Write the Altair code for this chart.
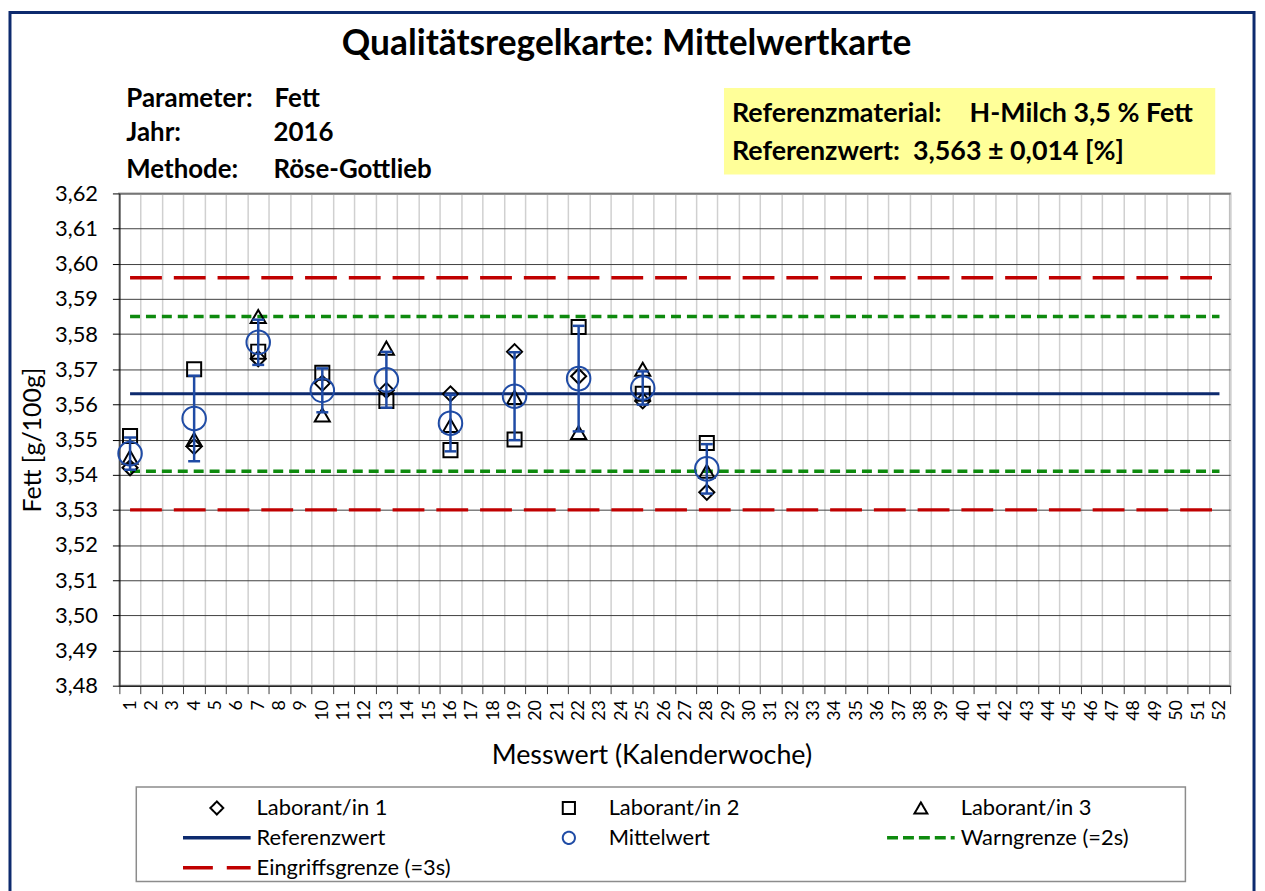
import altair as alt
import pandas as pd
import numpy as np

# ---------------- data ----------------
weeks = [str(w) for w in range(1, 53)]
sample_weeks = ["1", "4", "7", "10", "13", "16", "19", "22", "25", "28"]
lab1 = [3.542, 3.548, 3.573, 3.566, 3.564, 3.563, 3.575, 3.568, 3.561, 3.535]
lab2 = [3.551, 3.570, 3.575, 3.569, 3.561, 3.547, 3.550, 3.582, 3.563, 3.549]
lab3 = [3.545, 3.550, 3.585, 3.557, 3.576, 3.554, 3.562, 3.552, 3.570, 3.541]
ref_value = 3.563
warn_limits = [3.541, 3.585]
action_limits = [3.530, 3.596]
y_ticks = [3.48, 3.49, 3.50, 3.51, 3.52, 3.53, 3.54, 3.55, 3.56, 3.57,
           3.58, 3.59, 3.60, 3.61, 3.62]
series = ["Laborant/in 1", "Laborant/in 2", "Laborant/in 3", "Referenzwert",
          "Mittelwert", "Warngrenze (=2s)", "Eingriffsgrenze (=3s)"]

# ---------------- styles ----------------
FONT = "Lato"
NAVY = "#0D2A6E"
BLUE = "#1F4BA5"
GREEN = "#0E8A0E"
RED = "#C00000"
W, H = 1117, 495

labs = np.array([lab1, lab2, lab3])
mean = labs.mean(axis=0)
sd = labs.std(axis=0, ddof=1)
stat_df = pd.DataFrame({"week": sample_weeks, "mean": mean,
                        "lo": mean - sd, "hi": mean + sd})

x_enc = alt.X("week:O",
              scale=alt.Scale(domain=weeks, type="band", paddingInner=0, paddingOuter=0),
              axis=alt.Axis(title="Messwert (Kalenderwoche)", titleFont=FONT, titleFontSize=27,
                            titleFontWeight="normal", titleColor="black",
                            titleX=535, titleY=70, titleBaseline="middle", titleAlign="center",
                            labelAngle=270, labelFont=FONT, labelFontSize=18, labelColor="black",
                            labelPadding=6, labelOverlap=False, tickBand="extent", tickSize=8,
                            tickColor="#404040", domainColor="black", domainWidth=1,
                            grid=True, gridColor="#D0D0D0", gridWidth=1.5))
y_scale = alt.Scale(domain=[3.48, 3.62], nice=False, zero=False)
y_axis = alt.Axis(title="Fett [g/100g]", titleFont=FONT, titleFontSize=25, titleFontWeight="normal",
                  titleColor="black", titleAngle=270, titleX=-87, titleY=H / 2,
                  titleBaseline="middle", titleAlign="center",
                  values=y_ticks, labelExpr="replace(format(datum.value, '.2f'), '.', ',')",
                  labelFont=FONT, labelFontSize=22, labelColor="black", labelPadding=15,
                  labelOverlap=False, labelFlush=False, tickSize=7, tickColor="black",
                  domainColor="black", domainWidth=1, grid=True, gridColor="#404040", gridWidth=1)


def Y(field):
    return alt.Y(field, scale=y_scale, axis=y_axis, title="Fett [g/100g]")


layers = []

# decorations
one = pd.DataFrame({"k": [0]})
layers.append(alt.Chart(one).mark_rect(fill="transparent", stroke=NAVY, strokeWidth=3).encode(
    x=alt.value(-110), x2=alt.value(1141), y=alt.value(-182), y2=alt.value(720)))
layers.append(alt.Chart(one).mark_rect(fill="#FFFF99").encode(
    x=alt.value(608), x2=alt.value(1102), y=alt.value(-106), y2=alt.value(-19)))
layers.append(alt.Chart(one).mark_rect(fill="transparent", stroke="#8C8C8C", strokeWidth=1.5).encode(
    x=alt.value(17), x2=alt.value(1072), y=alt.value(597), y2=alt.value(692)))


def txt(s, x, y, size, weight="bold", align="left"):
    return alt.Chart(one).mark_text(text=s, font=FONT, fontSize=size, fontWeight=weight,
                                    align=align, baseline="middle", color="black").encode(
        x=alt.value(x), y=alt.value(y))


HS = 26
YS = 27
layers += [
    txt("Qualitätsregelkarte: Mittelwertkarte", 510, -150, 35.5, align="center"),
    txt("Parameter:", 7, -95, HS), txt("Fett", 156, -95, HS),
    txt("Jahr:", 7, -61, HS), txt("2016", 155, -61, HS),
    txt("Methode:", 7, -24, HS), txt("Röse-Gottlieb", 155, -24, HS),
    txt("Referenzmaterial:", 616, -80, YS), txt("H-Milch 3,5 % Fett", 855, -80, YS),
    txt("Referenzwert:", 616, -42, YS), txt("3,563 ± 0,014 [%]", 798, -42, YS),
]

# limit / reference lines
def hline(val, color, width, dash):
    df = pd.DataFrame({"week": [weeks[0], weeks[-1]], "v": [val, val]})
    return alt.Chart(df).mark_line(color=color, strokeWidth=width, strokeDash=dash,
                                   strokeCap="butt").encode(x=x_enc, y=Y("v:Q"))


layers.append(hline(ref_value, NAVY, 3, [1, 0]))
for v in warn_limits:
    layers.append(hline(v, GREEN, 3.5, [10, 6]))
for v in action_limits:
    layers.append(hline(v, RED, 3.5, [32, 12]))

# lab points
for vals, shp, sz in [(lab1, "diamond", 230), (lab2, "square", 200), (lab3, "triangle-up", 230)]:
    df = pd.DataFrame({"week": sample_weeks, "v": vals})
    layers.append(alt.Chart(df).mark_point(shape=shp, size=sz, filled=False, color="black",
                                           strokeWidth=2, opacity=1).encode(
        x=x_enc, y=Y("v:Q")))

# error bars + caps + means
layers.append(alt.Chart(stat_df).mark_rule(color=BLUE, strokeWidth=2.5).encode(
    x=x_enc, y=Y("lo:Q"), y2="hi:Q"))
for col in ["lo", "hi"]:
    layers.append(alt.Chart(stat_df).mark_tick(orient="horizontal", size=12, thickness=2.5,
                                               color=BLUE, opacity=1).encode(
        x=x_enc, y=Y(f"{col}:Q")))
layers.append(alt.Chart(stat_df).mark_point(shape="circle", size=560, filled=False, color=BLUE,
                                            strokeWidth=2, opacity=1).encode(
    x=x_enc, y=Y("mean:Q")))

# legend-only layer (Vega lays legend entries out column-wise, so the domain is
# ordered to read row-wise as in the reference)
style = {
    "Laborant/in 1": ("black", "diamond", [1, 0], 170, 2),
    "Laborant/in 2": ("black", "square", [1, 0], 150, 2),
    "Laborant/in 3": ("black", "triangle-up", [1, 0], 170, 2),
    "Referenzwert": (NAVY, "stroke", [1, 0], 4624, 3.5),
    "Mittelwert": (BLUE, "circle", [1, 0], 150, 2),
    "Warngrenze (=2s)": (GREEN, "stroke", [11, 5], 4624, 3.5),
    "Eingriffsgrenze (=3s)": (RED, "stroke", [30, 14], 4624, 3.5),
}
order = [series[0], series[3], series[5], series[1], series[4], series[6], series[2]]
leg = alt.Legend(title=None, orient="none", legendX=62, legendY=603, columns=3,
                 gridAlign="all", columnPadding=82, rowPadding=0, clipHeight=30,
                 labelFont=FONT, labelFontSize=22, labelColor="black", labelOffset=4,
                 labelLimit=400, padding=0, symbolFillColor="transparent")
leg_df = pd.DataFrame({"series": series})
layers.append(alt.Chart(leg_df).transform_filter("false").mark_point(filled=False, opacity=1).encode(
    stroke=alt.Stroke("series:N", legend=leg, scale=alt.Scale(
        domain=order, range=[style[s][0] for s in order])),
    shape=alt.Shape("series:N", legend=leg, scale=alt.Scale(
        domain=order, range=[style[s][1] for s in order])),
    strokeDash=alt.StrokeDash("series:N", legend=leg, scale=alt.Scale(
        domain=order, range=[style[s][2] for s in order])),
    size=alt.Size("series:N", legend=leg, scale=alt.Scale(
        type="ordinal", domain=order, range=[style[s][3] for s in order])),
    strokeWidth=alt.StrokeWidth("series:N", legend=leg, scale=alt.Scale(
        type="ordinal", domain=order, range=[style[s][4] for s in order])),
))

chart = alt.layer(*layers).properties(
    width=W, height=H,
    autosize=alt.AutoSizeParams(type="none"),
    padding={"left": 112, "top": 184, "right": 27, "bottom": 204},
).configure(font=FONT).configure_view(stroke="#BFBFBF", strokeWidth=2.5
).configure_axisY(labelOverlap=False)

chart.save("out.html", embed_options={"renderer": "svg", "actions": False})
